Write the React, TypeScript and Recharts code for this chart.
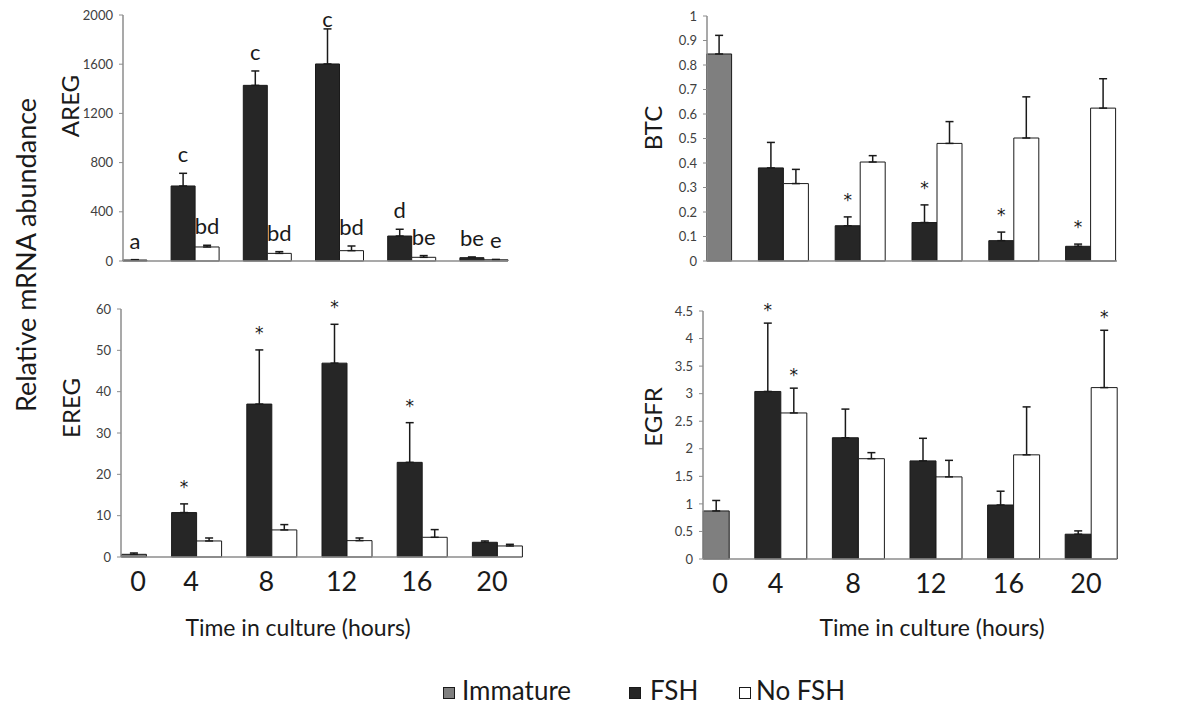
import React from 'react';
import { BarChart, Bar, XAxis, YAxis, ErrorBar, LabelList } from 'recharts';

const FONT = "Lato, 'Open Sans', sans-serif";
const STAR_FONT = "'DejaVu Sans', sans-serif";

const hours = [0, 4, 8, 12, 16, 20];
const seriesNames = ['Immature', 'FSH', 'No FSH'];
const xTitle = 'Time in culture (hours)';
const yTitle = 'Relative mRNA abundance';

// AREG
const aregTicks = [0, 400, 800, 1200, 1600, 2000];
const aregImmature = [8, null, null, null, null, null];
const aregImmatureErr = [3, null, null, null, null, null];
const aregFsh = [null, 610, 1428, 1602, 203, 27];
const aregFshErr = [null, 103, 117, 285, 55, 6];
const aregNoFsh = [null, 114, 62, 84, 30, 10];
const aregNoFshErr = [null, 14, 14, 38, 14, 3];
const aregImmatureMarks = ['a', null, null, null, null, null];
const aregFshMarks = [null, 'c', 'c', 'c', 'd', 'be'];
const aregNoFshMarks = [null, 'bd', 'bd', 'bd', 'be', 'e'];

// BTC
const btcTicks = [0, 0.1, 0.2, 0.3, 0.4, 0.5, 0.6, 0.7, 0.8, 0.9, 1];
const btcImmature = [0.845, null, null, null, null, null];
const btcImmatureErr = [0.076, null, null, null, null, null];
const btcFsh = [null, 0.38, 0.144, 0.157, 0.083, 0.06];
const btcFshErr = [null, 0.104, 0.036, 0.072, 0.035, 0.009];
const btcNoFsh = [null, 0.316, 0.404, 0.48, 0.502, 0.624];
const btcNoFshErr = [null, 0.058, 0.026, 0.089, 0.168, 0.12];
const btcImmatureMarks = [null, null, null, null, null, null];
const btcFshMarks = [null, null, '*', '*', '*', '*'];
const btcNoFshMarks = [null, null, null, null, null, null];

// EREG
const eregTicks = [0, 10, 20, 30, 40, 50, 60];
const eregImmature = [0.65, null, null, null, null, null];
const eregImmatureErr = [0.32, null, null, null, null, null];
const eregFsh = [null, 10.75, 37.0, 46.9, 22.9, 3.56];
const eregFshErr = [null, 2.1, 13.1, 9.4, 9.6, 0.32];
const eregNoFsh = [null, 3.88, 6.55, 3.96, 4.77, 2.67];
const eregNoFshErr = [null, 0.72, 1.29, 0.64, 1.86, 0.4];
const eregImmatureMarks = [null, null, null, null, null, null];
const eregFshMarks = [null, '*', '*', '*', '*', null];
const eregNoFshMarks = [null, null, null, null, null, null];

// EGFR
const egfrTicks = [0, 0.5, 1, 1.5, 2, 2.5, 3, 3.5, 4, 4.5];
const egfrImmature = [0.872, null, null, null, null, null];
const egfrImmatureErr = [0.19, null, null, null, null, null];
const egfrFsh = [null, 3.04, 2.2, 1.78, 0.98, 0.45];
const egfrFshErr = [null, 1.24, 0.52, 0.41, 0.25, 0.06];
const egfrNoFsh = [null, 2.65, 1.82, 1.49, 1.89, 3.11];
const egfrNoFshErr = [null, 0.45, 0.11, 0.3, 0.87, 1.04];
const egfrImmatureMarks = [null, null, null, null, null, null];
const egfrFshMarks = [null, '*', null, null, null, null];
const egfrNoFshMarks = [null, '*', null, null, null, '*'];

const COLORS = { immature: '#7f7f7f', fsh: '#262626', noFsh: '#ffffff', stroke: '#1a1a1a', axis: '#8c8c8c' };

const pair = (e: number | null) => (e == null ? null : [0, e]);

const makeMark = (marks: (string | null)[], vals: (number | null)[], errs: (number | null)[], style: any) => (props: any) => {
  const index = hours.indexOf(Number(props.value));
  if (index < 0) return null;
  const t = marks[index];
  if (!t) return null;
  const vb = props.viewBox && props.viewBox.width != null ? props.viewBox : props;
  const { x, y, width, height } = vb;
  const v = vals[index] ?? 0;
  const e = errs[index] ?? 0;
  const errPx = v ? (Math.abs(height) * e) / v : 0;
  let base = y - errPx - style.gap;
  if (style.minBase != null) base = Math.max(base, style.minBase);
  return (
    <text x={x + width / 2} y={base} textAnchor="middle" fontSize={style.size} fill="#1a1a1a" fontFamily={style.font}>
      {t}
    </text>
  );
};

const HourTick = (props: any) => {
  const { x, y, payload } = props;
  const dx = payload.value === 0 ? 17 : -5;
  return (
    <text x={x + dx} y={y + 26} textAnchor="middle" fontSize={27} fill="#1a1a1a" fontFamily={FONT}>
      {payload.value}
    </text>
  );
};

const hourOf = (row: any) => row.hour;

function Panel(cfg: any) {
  const data = hours.map((h, i) => ({
    hour: h,
    immature: cfg.immature[i],
    fsh: cfg.fsh[i],
    noFsh: cfg.noFsh[i],
    immatureErr: pair(cfg.immatureErr[i]),
    fshErr: pair(cfg.fshErr[i]),
    noFshErr: pair(cfg.noFshErr[i]),
  }));
  const errProps = { width: 4, stroke: COLORS.stroke, strokeWidth: 1.5 };
  return (
    <div style={{ position: 'absolute', left: cfg.left, top: cfg.top }}>
      <BarChart width={cfg.width} height={cfg.height} data={data} margin={cfg.margin} barGap={0}>
        <XAxis
          dataKey="hour"
          type="number"
          domain={[0, 20]}
          ticks={hours}
          interval={0}
          padding={{ left: 0, right: cfg.padRight }}
          axisLine={{ stroke: COLORS.axis, strokeWidth: 1.5 }}
          tickLine={false}
          tick={cfg.showTicks ? <HourTick /> : false}
          height={cfg.showTicks ? 40 : 1}
        />
        <YAxis
          type="number"
          domain={[0, cfg.yMax]}
          ticks={cfg.yTicks}
          interval={0}
          width={cfg.yWidth}
          axisLine={{ stroke: COLORS.axis, strokeWidth: 1.5 }}
          tickLine={{ stroke: COLORS.axis }}
          tickSize={4}
          tickMargin={6}
          tick={{ fontSize: 13, fill: '#404040', fontFamily: FONT }}
        />
        <Bar dataKey="fsh" name={seriesNames[1]} stackId="left" barSize={cfg.barSize} fill={COLORS.fsh} stroke={COLORS.stroke} isAnimationActive={false}>
          <ErrorBar dataKey="fshErr" {...errProps} />
          <LabelList dataKey={hourOf} content={makeMark(cfg.fshMarks, cfg.fsh, cfg.fshErr, cfg.markStyle)} />
        </Bar>
        <Bar dataKey="immature" name={seriesNames[0]} stackId="right" barSize={cfg.barSize} fill={COLORS.immature} stroke={COLORS.stroke} isAnimationActive={false}>
          <ErrorBar dataKey="immatureErr" {...errProps} />
          <LabelList dataKey={hourOf} content={makeMark(cfg.immatureMarks, cfg.immature, cfg.immatureErr, cfg.markStyle)} />
        </Bar>
        <Bar dataKey="noFsh" name={seriesNames[2]} stackId="right" barSize={cfg.barSize} fill={COLORS.noFsh} stroke={COLORS.stroke} isAnimationActive={false}>
          <ErrorBar dataKey="noFshErr" {...errProps} />
          <LabelList dataKey={hourOf} content={makeMark(cfg.noFshMarks, cfg.noFsh, cfg.noFshErr, cfg.markStyle)} />
        </Bar>
      </BarChart>
    </div>
  );
}

const letterStyle = { size: 22, gap: 11, minBase: 27, font: FONT };
const starStyle = { size: 17, gap: 11, font: STAR_FONT };

export default function App() {
  return (
    <div style={{ position: 'absolute', left: 0, top: 0, width: 1194, height: 711, background: '#fff', overflow: 'hidden' }}>
      <Panel
        left={0} top={0} width={540} height={280}
        margin={{ top: 15, left: 63, right: 32, bottom: 18 }}
        yWidth={60} yMax={2000} yTicks={aregTicks} padRight={24} barSize={24} showTicks={false}
        immature={aregImmature} immatureErr={aregImmatureErr} fsh={aregFsh} fshErr={aregFshErr} noFsh={aregNoFsh} noFshErr={aregNoFshErr}
        immatureMarks={aregImmatureMarks} fshMarks={aregFshMarks} noFshMarks={aregNoFshMarks} markStyle={letterStyle}
      />
      <Panel
        left={600} top={0} width={560} height={280}
        margin={{ top: 16, left: 57, right: 43, bottom: 18 }}
        yWidth={50} yMax={1} yTicks={btcTicks} padRight={26} barSize={25} showTicks={false}
        immature={btcImmature} immatureErr={btcImmatureErr} fsh={btcFsh} fshErr={btcFshErr} noFsh={btcNoFsh} noFshErr={btcNoFshErr}
        immatureMarks={btcImmatureMarks} fshMarks={btcFshMarks} noFshMarks={btcNoFshMarks} markStyle={starStyle}
      />
      <Panel
        left={0} top={290} width={540} height={360}
        margin={{ top: 19, left: 61, right: 18, bottom: 53 }}
        yWidth={60} yMax={60} yTicks={eregTicks} padRight={25} barSize={25} showTicks={true}
        immature={eregImmature} immatureErr={eregImmatureErr} fsh={eregFsh} fshErr={eregFshErr} noFsh={eregNoFsh} noFshErr={eregNoFshErr}
        immatureMarks={eregImmatureMarks} fshMarks={eregFshMarks} noFshMarks={eregNoFshMarks} markStyle={starStyle}
      />
      <Panel
        left={600} top={290} width={560} height={360}
        margin={{ top: 21, left: 53, right: 43, bottom: 51 }}
        yWidth={50} yMax={4.5} yTicks={egfrTicks} padRight={26} barSize={26} showTicks={true}
        immature={egfrImmature} immatureErr={egfrImmatureErr} fsh={egfrFsh} fshErr={egfrFshErr} noFsh={egfrNoFsh} noFshErr={egfrNoFshErr}
        immatureMarks={egfrImmatureMarks} fshMarks={egfrFshMarks} noFshMarks={egfrNoFshMarks} markStyle={{ size: 17, gap: 7, font: STAR_FONT }}
      />
      <svg width={1194} height={711} style={{ position: 'absolute', left: 0, top: 0, pointerEvents: 'none' }} fontFamily={FONT} fill="#1a1a1a">
        <text transform="translate(36,255) rotate(-90)" textAnchor="middle" fontSize={27}>{yTitle}</text>
        <text transform="translate(79,106) rotate(-90)" textAnchor="middle" fontSize={24}>AREG</text>
        <text transform="translate(80,408) rotate(-90)" textAnchor="middle" fontSize={24}>EREG</text>
        <text transform="translate(662,128) rotate(-90)" textAnchor="middle" fontSize={24}>BTC</text>
        <text transform="translate(662,417) rotate(-90)" textAnchor="middle" fontSize={24}>EGFR</text>
        <text x={298} y={636} textAnchor="middle" fontSize={23}>{xTitle}</text>
        <text x={932} y={636} textAnchor="middle" fontSize={23}>{xTitle}</text>
        <rect x={443.5} y={687.5} width={11} height={11} fill={COLORS.immature} stroke={COLORS.stroke} />
        <text x={462} y={700} fontSize={26}>{seriesNames[0]}</text>
        <rect x={629.5} y={687.5} width={11} height={11} fill={COLORS.fsh} stroke={COLORS.stroke} />
        <text x={650} y={700} fontSize={26}>{seriesNames[1]}</text>
        <rect x={739.5} y={687.5} width={11} height={11} fill={COLORS.noFsh} stroke={COLORS.stroke} />
        <text x={756} y={700} fontSize={26}>{seriesNames[2]}</text>
      </svg>
    </div>
  );
}
